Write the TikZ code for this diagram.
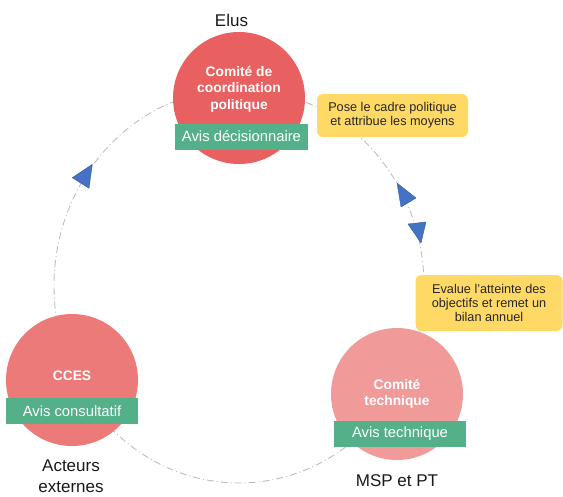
\documentclass[tikz,border=0pt]{standalone}
\usepackage{fontspec}
\setmainfont{Liberation Sans}
\definecolor{rougePol}{HTML}{E96060}
\definecolor{rougeCces}{HTML}{EB7A78}
\definecolor{rougeTech}{HTML}{F09A9A}
\definecolor{vertAvis}{HTML}{54B088}
\definecolor{jauneBulle}{HTML}{FFD966}
\definecolor{bleuFleche}{HTML}{4472C4}
\definecolor{grisCycle}{HTML}{BDBDBD}

\begin{document}
\begin{tikzpicture}[x=1pt, y=-1pt,
  rond/.style={circle, minimum size=132pt, inner sep=0pt},
  titre/.style={text=white, align=center, font=\bfseries\fontsize{13.8}{16.5}\selectfont},
  avis/.style={fill=vertAvis, text=white, minimum width=133pt, minimum height=26pt,
    inner sep=0pt, font=\fontsize{14.8}{17}\selectfont},
  bulle/.style={fill=jauneBulle, rounded corners=6pt, align=center, inner sep=0pt,
    text=black!85, font=\fontsize{12.7}{14.4}\selectfont},
  acteur/.style={align=center, text=black!90, font=\fontsize{17}{21}\selectfont},
  fleche/.style={fill=bleuFleche, draw=bleuFleche!80!black, line width=0.4pt, line join=round}]
  \useasboundingbox (0,0) rectangle (563,496);

  % 循環（一点鎖線）
  \coordinate (C) at (239,286);
  \draw[grisCycle, line width=0.9pt, dash pattern=on 7pt off 3pt on 1pt off 3pt]
    (C) ellipse[x radius=185pt, y radius=197pt];

  % 吹き出し
  \node[bulle, minimum width=151pt, minimum height=43pt] (cadre) at (392.5,115.5)
    {Pose le cadre politique\\et attribue les moyens};
  \node[bulle, minimum width=147pt, minimum height=56pt] (bilan) at (489,303)
    {Evalue l’atteinte des\\objectifs et remet un\\bilan annuel};

  % 委員会
  \node[rond, fill=rougePol] (pol) at (239,98) {};
  \node[rond, fill=rougeCces] (cces) at (72,380) {};
  \node[rond, fill=rougeTech] (tech) at (397,394) {};

  \node[titre] (polT) at ([yshift=9pt]pol.center) {Comité de\\coordination\\politique};
  \node[titre] (ccesT) at ([yshift=4pt]cces.center) {CCES};
  \node[titre] (techT) at (tech.center) {Comité\\technique};

  % 意見の種類
  \node[avis] (polA) at (241.5,136.5) {Avis décisionnaire};
  \node[avis, minimum width=132pt] (ccesA) at (72,411) {Avis consultatif};
  \node[avis, minimum width=132pt] (techA) at (400,434) {Avis technique};

  % 参加者
  \node[acteur] (elus) at (231.5,20.5) {Elus};
  \node[acteur] (externes) at (71,476.5) {Acteurs\\externes};
  \node[acteur] (msp) at (397,480.5) {MSP et PT};

  % 矢印
  \draw[fleche] (92.3,164.3) -- (72.3,177.7) -- (89,188.3) -- cycle;
  \draw[fleche] (397,183) -- (416,198) -- (401,207) -- cycle;
  \draw[fleche] (421,243) -- (408,224) -- (426,222) -- cycle;
\end{tikzpicture}
\end{document}
